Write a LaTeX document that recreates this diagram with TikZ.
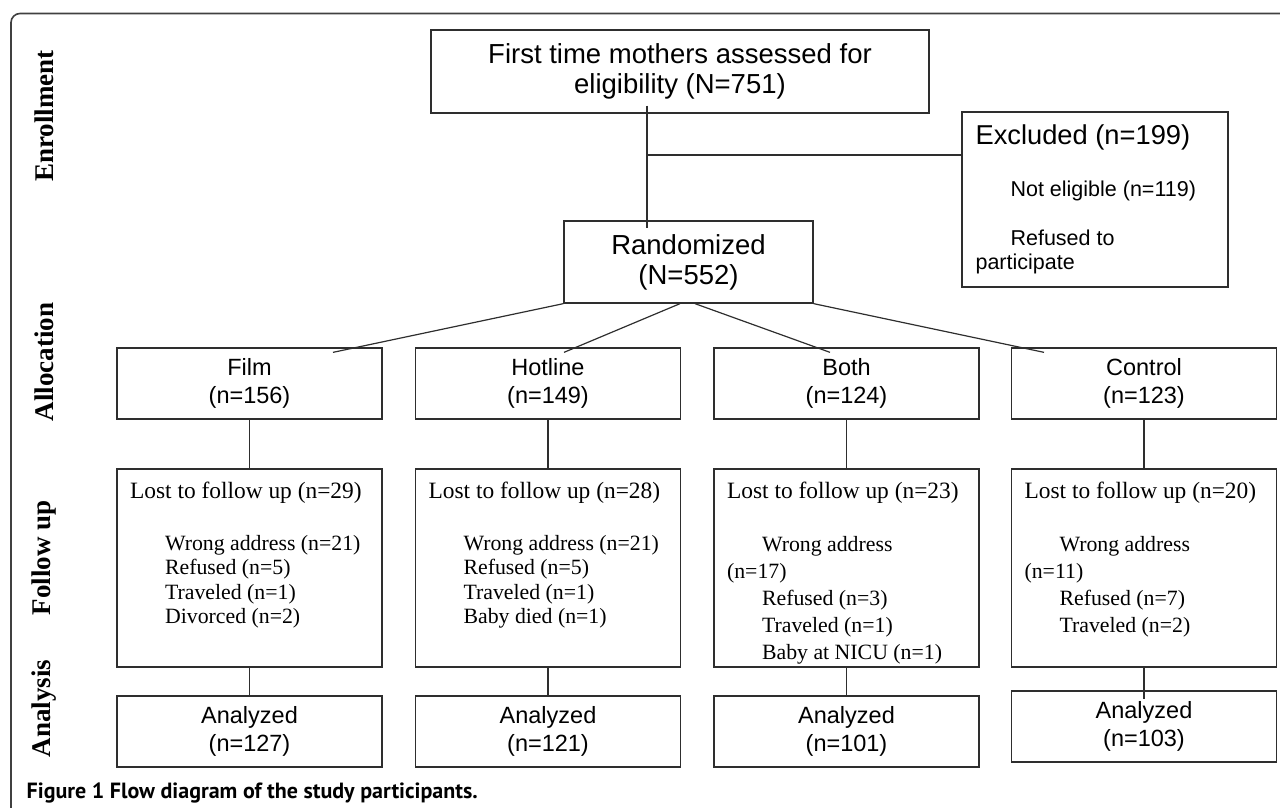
\documentclass[tikz,border=0pt]{standalone}
\usepackage{fontspec}
\setmainfont{Liberation Serif}
\setsansfont{Liberation Sans}
\newfontfamily\capfont{PT Sans}
\usetikzlibrary{positioning}

\definecolor{linegray}{gray}{0.18}
\tikzset{
  box/.style={draw=linegray, line width=1.3pt, minimum width=265pt, minimum height=71pt,
    inner sep=0pt, align=center, font=\sffamily\fontsize{23.5}{27.5}\selectfont},
  bigbox/.style={box, font=\sffamily\fontsize{27.5}{30}\selectfont},
  lostbox/.style={draw=linegray, line width=1.3pt, minimum width=265pt, minimum height=198pt, inner sep=0pt},
  losthead/.style={anchor=base west, inner sep=0pt, font=\fontsize{23.4}{28}\selectfont},
  lostitem/.style={anchor=base west, inner sep=0pt, font=\fontsize{21.8}{26}\selectfont},
  exitem/.style={anchor=base west, inner sep=0pt, font=\sffamily\fontsize{21.5}{26}\selectfont},
  phase/.style={rotate=90, inner sep=0pt, font=\bfseries\fontsize{27}{30}\selectfont},
  link/.style={draw=linegray, line width=1.2pt},
}

\begin{document}
\begin{tikzpicture}[x=1pt, y=-1pt]
  \useasboundingbox (0,0) rectangle (1280,808);
  % frame
  \draw[black!75, line width=1.6pt, rounded corners=9pt] (11,808) -- (11,13.5) -- (1280,13.5);

  % phases
  \node[phase] (enrol) at (44,116) {Enrollment};
  \node[phase] (alloc) at (44,362) {Allocation};
  \node[phase] (follow) at (44,558) {Follow up};
  \node[phase] (anal) at (44,708.5) {Analysis};

  % enrollment
  \node[bigbox, minimum width=498pt, minimum height=83pt] (top) at (680,71.5)
    {First time mothers assessed for\\eligibility (N=751)};
  \node[bigbox, minimum width=249pt, minimum height=82pt] (rand) at (688.5,262)
    {Randomized\\(N=552)};
  \node[draw=linegray, line width=1.3pt, minimum width=266pt, minimum height=175pt] (excl) at (1095,199.5) {};
  \node[exitem, font=\sffamily\fontsize{27.3}{30}\selectfont] (exhead) at ([shift={(14,33)}]excl.north west) {Excluded (n=199)};
  \node[exitem] (exnot) at ([shift={(49,84.7)}]excl.north west) {Not eligible (n=119)};
  \node[exitem] (exref) at ([shift={(49,134)}]excl.north west) {Refused to};
  \node[exitem] (expart) at ([shift={(14,158)}]excl.north west) {participate};

  \coordinate (fork) at (647,155);
  \draw[link] ([shift={(-33,-8)}]top.south) -- ([shift={(-41.5,8)}]rand.north);
  \draw[link] (fork) -- (fork -| excl.west);

  % allocation
  \node[box] (film) at (249.5,383.5) {Film\\(n=156)};
  \node[box] (hot) at (548,383.5) {Hotline\\(n=149)};
  \node[box] (both) at (846.5,383.5) {Both\\(n=124)};
  \node[box] (ctl) at (1144,383.5) {Control\\(n=123)};

  \draw[link] (rand.south west) -- ([shift={(83.5,5)}]film.north);
  \draw[link] ([xshift=-8.5pt]rand.south) -- ([shift={(16,5)}]hot.north);
  \draw[link] ([xshift=6.5pt]rand.south) -- ([shift={(-16.5,5)}]both.north);
  \draw[link] (rand.south east) -- ([shift={(-100,5)}]ctl.north);

  % follow up
  \node[lostbox] (lostfilm) at (249.5,568) {};
  \node[lostbox] (losthot) at (548,568) {};
  \node[lostbox] (lostboth) at (846.5,568) {};
  \node[lostbox] (lostctl) at (1144,568) {};

  \foreach \b/\n in {lostfilm/29, losthot/28, lostboth/23, lostctl/20}
    \node[losthead] at ([shift={(13.5,30)}]\b.north west) {Lost to follow up (n=\n)};

  \foreach \t [count=\i from 0] in {Wrong address (n=21), Refused (n=5), Traveled (n=1), Divorced (n=2)}
    \node[lostitem] at ([shift={(48.5,81.7+24.6*\i)}]lostfilm.north west) {\t};
  \foreach \t [count=\i from 0] in {Wrong address (n=21), Refused (n=5), Traveled (n=1), Baby died (n=1)}
    \node[lostitem] at ([shift={(48.5,81.7+24.6*\i)}]losthot.north west) {\t};
  \foreach \dx/\t [count=\i from 0] in {48.5/Wrong address, 13.5/(n=17), 48.5/Refused (n=3), 48.5/Traveled (n=1), 48.5/Baby at NICU (n=1)}
    \node[lostitem] at ([shift={(\dx,82.7+27.2*\i)}]lostboth.north west) {\t};
  \foreach \dx/\t [count=\i from 0] in {48.5/Wrong address, 13.5/(n=11), 48.5/Refused (n=7), 48.5/Traveled (n=2)}
    \node[lostitem] at ([shift={(\dx,82.7+27.2*\i)}]lostctl.north west) {\t};

  % analysis
  \node[box] (anafilm) at (249.5,731.5) {Analyzed\\(n=127)};
  \node[box] (anahot) at (548,731.5) {Analyzed\\(n=121)};
  \node[box] (anaboth) at (846.5,731.5) {Analyzed\\(n=101)};
  \node[box] (anactl) at (1144,726.5) {Analyzed\\(n=103)};

  \foreach \a/\l/\z in {film/lostfilm/anafilm, hot/losthot/anahot, both/lostboth/anaboth} {
    \draw[link] (\a) -- (\l);
    \draw[link] (\l.south) -- ([shift={(0,2)}]\z.north);
  }
  \draw[link] (ctl) -- (lostctl);
  \draw[link] (lostctl.south) -- ([shift={(0,9)}]anactl.north);

  % caption
  \node[anchor=base west, inner sep=0pt, font=\capfont\bfseries\fontsize{22}{24}\selectfont] (cap) at (26.5,798)
    {Figure 1 Flow diagram of the study participants.};
\end{tikzpicture}
\end{document}
